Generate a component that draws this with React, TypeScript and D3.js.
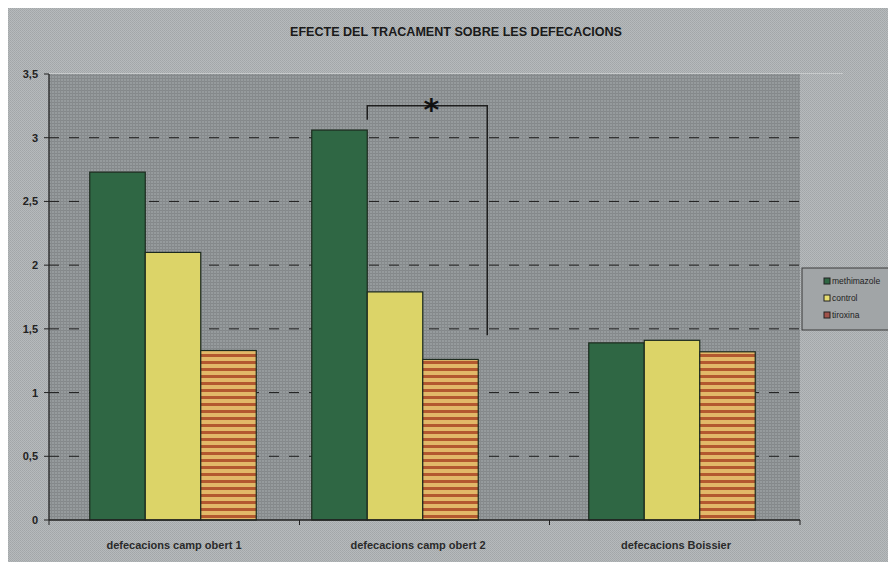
import React from "react";
import * as d3 from "d3";

const title = "EFECTE DEL TRACAMENT SOBRE LES DEFECACIONS";
const categories = ["defecacions camp obert 1", "defecacions camp obert 2", "defecacions Boissier"];
const seriesNames = ["methimazole", "control", "tiroxina"];
const metimazol = [2.73, 3.06, 1.39];
const control = [2.1, 1.79, 1.41];
const tiroxina = [1.33, 1.26, 1.32];
const yTicks = [0, 0.5, 1, 1.5, 2, 2.5, 3, 3.5];
const yTickLabels = ["0", "0,5", "1", "1,5", "2", "2,5", "3", "3,5"];

const series = [metimazol, control, tiroxina];
const fills = ["#2f6744", "#dcd468", "url(#stripes)"];
const swatch = ["#2f6744", "#e6dd70", "#a0524a"];

const plot = { left: 49, right: 800, top: 74, bottom: 520 };
const barW = 55.5;

export default function App() {
  const idx = categories.map((_, i) => i);
  // group centres and label centres along the category axis
  const xGroup = d3.scaleLinear().domain([0, 1, 2]).range([173, 395, 672]);
  const xLabel = d3.scaleLinear().domain([0, 1, 2]).range([174, 418, 676]);
  const xInner = d3.scaleBand<string>().domain(seriesNames).range([-1.5 * barW, 1.5 * barW]).padding(0);
  const y = d3.scaleLinear().domain([0, 3.5]).range([plot.bottom, plot.top]);
  const bounds = [plot.left, 299.5, 549.5, plot.right];

  // significance bracket between methimazole and tiroxina in group 2
  const bx1 = xGroup(1) + (xInner(seriesNames[0]) ?? 0) + barW;
  const bx2 = xGroup(1) + (xInner(seriesNames[2]) ?? 0) + barW + 9;
  const bTop = y(3.25);
  const font = "'Liberation Sans Narrow', 'Arial Narrow', 'Liberation Sans', sans-serif";

  return (
    <svg width={888} height={554} style={{ display: "block" }}>
      <defs>
        <pattern id="outerTex" width={2} height={2} patternUnits="userSpaceOnUse">
          <rect width={2} height={2} fill="#b6babc" />
          <rect width={1} height={1} fill="#a2a6a8" />
          <rect x={1} y={1} width={1} height={1} fill="#a6aaac" />
        </pattern>
        <pattern id="plotTex" width={3} height={3} patternUnits="userSpaceOnUse">
          <rect width={3} height={3} fill="#969b9d" />
          <rect width={3} height={1} fill="#84888a" />
          <rect width={1} height={3} fill="#878b8d" />
        </pattern>
        <pattern id="stripes" width={6} height={7} patternUnits="userSpaceOnUse">
          <rect width={6} height={7} fill="#e2b868" />
          <rect y={4} width={6} height={3} fill="#b3582f" />
        </pattern>
      </defs>
      <g transform="translate(-8,-8)">
        <rect x={8} y={8} width={888} height={554} fill="url(#outerTex)" />
        <text x={456} y={36} textAnchor="middle" fontFamily={font} fontWeight="bold" fontSize={12} fill="#1a1a1a" textLength={332} lengthAdjust="spacingAndGlyphs">
          {title}
        </text>
        <line x1={plot.left} x2={843} y1={plot.top - 0.5} y2={plot.top - 0.5} stroke="#c8cbcc" strokeWidth={1} />
        <rect x={plot.left} y={plot.top} width={plot.right - plot.left} height={plot.bottom - plot.top} fill="url(#plotTex)" />
        {yTicks.filter((t) => t > 0 && t < 3.5).map((t) => (
          <line key={t} x1={plot.left} x2={plot.right} y1={y(t)} y2={y(t)} stroke="#1e1e1e" strokeWidth={1} strokeDasharray="10,10" />
        ))}
        {idx.map((ci) =>
          series.map((s, si) => {
            const bx = xGroup(ci) + (xInner(seriesNames[si]) ?? 0);
            return (
              <rect key={ci + "-" + si} x={bx} y={y(s[ci])} width={xInner.bandwidth()} height={y(0) - y(s[ci])} fill={fills[si]} stroke="#1c2a1e" strokeWidth={1.2} />
            );
          })
        )}
        {/* axes */}
        <line x1={plot.left} x2={plot.left} y1={plot.top} y2={plot.bottom} stroke="#222" strokeWidth={1.3} />
        <line x1={plot.left} x2={plot.right} y1={plot.bottom} y2={plot.bottom} stroke="#222" strokeWidth={1.3} />
        {yTicks.map((t, i) => (
          <g key={t}>
            <line x1={plot.left - 5} x2={plot.left} y1={y(t)} y2={y(t)} stroke="#222" />
            <text x={38} y={y(t) + 4} textAnchor="end" fontFamily={font} fontWeight="bold" fontSize={11} fill="#222">
              {yTickLabels[i]}
            </text>
          </g>
        ))}
        {bounds.map((xv, i) => (
          <line key={i} x1={xv} x2={xv} y1={plot.bottom} y2={plot.bottom + 5} stroke="#222" />
        ))}
        {categories.map((c, i) => (
          <text key={c} x={xLabel(i)} y={549} textAnchor="middle" fontFamily={font} fontWeight="bold" fontSize={11} fill="#2a2a2a">
            {c}
          </text>
        ))}
        {/* significance bracket */}
        <path d={`M${bx1},${y(3.14)} V${bTop} H${bx2} V${y(1.45)}`} fill="none" stroke="#1e1e1e" strokeWidth={1.5} />
        <text x={(bx1 + bx2) / 2 + 4} y={bTop + 14} textAnchor="middle" fontFamily="'DejaVu Sans', sans-serif" fontWeight="bold" fontSize={30} fill="#111">
          *
        </text>
        {/* legend */}
        <rect x={802} y={268} width={100} height={62} fill="#a1a5a7" stroke="#3a3a3a" strokeWidth={1} />
        {seriesNames.map((n, i) => (
          <g key={n}>
            <rect x={824} y={278 + i * 17} width={6} height={6} fill={swatch[i]} stroke="#222" strokeWidth={1} />
            <text x={832} y={284 + i * 17} fontFamily={font} fontSize={8.5} fill="#222">
              {n}
            </text>
          </g>
        ))}
      </g>
    </svg>
  );
}
